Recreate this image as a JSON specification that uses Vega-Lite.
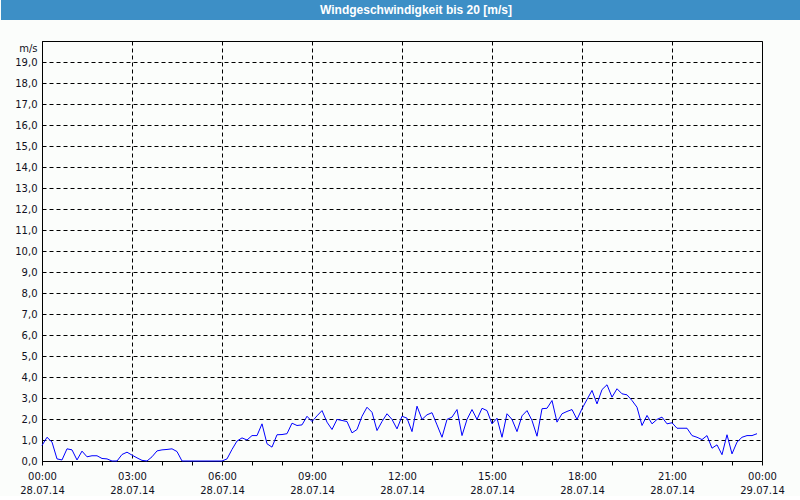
{
  "$schema": "https://vega.github.io/schema/vega-lite/v6.json",
  "background": "#fbfdfb",
  "padding": 0,
  "spacing": 20,
  "config": {"font": "DejaVu Sans"},
  "vconcat": [
    {
      "width": 759,
      "height": 20,
      "view": {"fill": null, "stroke": null},
      "data": {"values": [{"label": "Windgeschwindigkeit bis 20 [m/s]"}]},
      "encoding": {
        "x": {"field": "label", "type": "nominal", "axis": null, "scale": {"type": "band", "range": [-41, 759], "paddingInner": 0, "paddingOuter": 0}}
      },
      "layer": [
        {"mark": {"type": "rect", "color": "#3d8fc6"}},
        {
          "mark": {"type": "text", "color": "white", "font": "Liberation Sans", "fontSize": 12, "fontWeight": "bold", "dx": 15},
          "encoding": {"text": {"field": "label"}}
        }
      ]
    },
    {
      "width": 720,
      "height": 420,
      "view": {"stroke": "black", "strokeWidth": 1, "fill": null},
      "data": {"values": [
        {"t":"2014-07-28T00:00:00Z","v":0.74},{"t":"2014-07-28T00:10:00Z","v":1.13},{"t":"2014-07-28T00:20:00Z","v":0.9},{"t":"2014-07-28T00:30:00Z","v":0.1},{"t":"2014-07-28T00:40:00Z","v":0.05},{"t":"2014-07-28T00:50:00Z","v":0.58},
        {"t":"2014-07-28T01:00:00Z","v":0.53},{"t":"2014-07-28T01:10:00Z","v":0.05},{"t":"2014-07-28T01:20:00Z","v":0.47},{"t":"2014-07-28T01:30:00Z","v":0.2},{"t":"2014-07-28T01:40:00Z","v":0.25},{"t":"2014-07-28T01:50:00Z","v":0.25},
        {"t":"2014-07-28T02:00:00Z","v":0.12},{"t":"2014-07-28T02:10:00Z","v":0.1},{"t":"2014-07-28T02:20:00Z","v":0},{"t":"2014-07-28T02:30:00Z","v":0},{"t":"2014-07-28T02:40:00Z","v":0.31},{"t":"2014-07-28T02:50:00Z","v":0.42},
        {"t":"2014-07-28T03:00:00Z","v":0.28},{"t":"2014-07-28T03:10:00Z","v":0.15},{"t":"2014-07-28T03:20:00Z","v":0.03},{"t":"2014-07-28T03:30:00Z","v":0},{"t":"2014-07-28T03:40:00Z","v":0.2},{"t":"2014-07-28T03:50:00Z","v":0.48},
        {"t":"2014-07-28T04:00:00Z","v":0.53},{"t":"2014-07-28T04:10:00Z","v":0.55},{"t":"2014-07-28T04:20:00Z","v":0.58},{"t":"2014-07-28T04:30:00Z","v":0.45},{"t":"2014-07-28T04:40:00Z","v":0},{"t":"2014-07-28T04:50:00Z","v":0},
        {"t":"2014-07-28T05:00:00Z","v":0},{"t":"2014-07-28T05:10:00Z","v":0},{"t":"2014-07-28T05:20:00Z","v":0},{"t":"2014-07-28T05:30:00Z","v":0},{"t":"2014-07-28T05:40:00Z","v":0},{"t":"2014-07-28T05:50:00Z","v":0},
        {"t":"2014-07-28T06:00:00Z","v":0},{"t":"2014-07-28T06:10:00Z","v":0.1},{"t":"2014-07-28T06:20:00Z","v":0.55},{"t":"2014-07-28T06:30:00Z","v":0.95},{"t":"2014-07-28T06:40:00Z","v":1.1},{"t":"2014-07-28T06:50:00Z","v":1.0},
        {"t":"2014-07-28T07:00:00Z","v":1.21},{"t":"2014-07-28T07:10:00Z","v":1.21},{"t":"2014-07-28T07:20:00Z","v":1.77},{"t":"2014-07-28T07:30:00Z","v":0.82},{"t":"2014-07-28T07:40:00Z","v":0.66},{"t":"2014-07-28T07:50:00Z","v":1.25},
        {"t":"2014-07-28T08:00:00Z","v":1.26},{"t":"2014-07-28T08:10:00Z","v":1.3},{"t":"2014-07-28T08:20:00Z","v":1.8},{"t":"2014-07-28T08:30:00Z","v":1.69},{"t":"2014-07-28T08:40:00Z","v":1.72},{"t":"2014-07-28T08:50:00Z","v":2.13},
        {"t":"2014-07-28T09:00:00Z","v":1.88},{"t":"2014-07-28T09:10:00Z","v":2.15},{"t":"2014-07-28T09:20:00Z","v":2.4},{"t":"2014-07-28T09:30:00Z","v":1.85},{"t":"2014-07-28T09:40:00Z","v":1.5},{"t":"2014-07-28T09:50:00Z","v":1.98},
        {"t":"2014-07-28T10:00:00Z","v":1.93},{"t":"2014-07-28T10:10:00Z","v":1.88},{"t":"2014-07-28T10:20:00Z","v":1.34},{"t":"2014-07-28T10:30:00Z","v":1.5},{"t":"2014-07-28T10:40:00Z","v":2.13},{"t":"2014-07-28T10:50:00Z","v":2.56},
        {"t":"2014-07-28T11:00:00Z","v":2.32},{"t":"2014-07-28T11:10:00Z","v":1.45},{"t":"2014-07-28T11:20:00Z","v":1.88},{"t":"2014-07-28T11:30:00Z","v":2.25},{"t":"2014-07-28T11:40:00Z","v":1.98},{"t":"2014-07-28T11:50:00Z","v":1.53},
        {"t":"2014-07-28T12:00:00Z","v":2.13},{"t":"2014-07-28T12:10:00Z","v":2.04},{"t":"2014-07-28T12:20:00Z","v":1.4},{"t":"2014-07-28T12:30:00Z","v":2.61},{"t":"2014-07-28T12:40:00Z","v":1.98},{"t":"2014-07-28T12:50:00Z","v":2.2},
        {"t":"2014-07-28T13:00:00Z","v":2.3},{"t":"2014-07-28T13:10:00Z","v":1.72},{"t":"2014-07-28T13:20:00Z","v":1.13},{"t":"2014-07-28T13:30:00Z","v":1.98},{"t":"2014-07-28T13:40:00Z","v":2.09},{"t":"2014-07-28T13:50:00Z","v":2.45},
        {"t":"2014-07-28T14:00:00Z","v":1.21},{"t":"2014-07-28T14:10:00Z","v":1.98},{"t":"2014-07-28T14:20:00Z","v":2.45},{"t":"2014-07-28T14:30:00Z","v":1.98},{"t":"2014-07-28T14:40:00Z","v":2.51},{"t":"2014-07-28T14:50:00Z","v":2.4},
        {"t":"2014-07-28T15:00:00Z","v":1.77},{"t":"2014-07-28T15:10:00Z","v":2.04},{"t":"2014-07-28T15:20:00Z","v":1.13},{"t":"2014-07-28T15:30:00Z","v":2.25},{"t":"2014-07-28T15:40:00Z","v":1.98},{"t":"2014-07-28T15:50:00Z","v":1.4},
        {"t":"2014-07-28T16:00:00Z","v":2.15},{"t":"2014-07-28T16:10:00Z","v":2.4},{"t":"2014-07-28T16:20:00Z","v":1.93},{"t":"2014-07-28T16:30:00Z","v":1.18},{"t":"2014-07-28T16:40:00Z","v":2.49},{"t":"2014-07-28T16:50:00Z","v":2.51},
        {"t":"2014-07-28T17:00:00Z","v":2.88},{"t":"2014-07-28T17:10:00Z","v":1.85},{"t":"2014-07-28T17:20:00Z","v":2.25},{"t":"2014-07-28T17:30:00Z","v":2.36},{"t":"2014-07-28T17:40:00Z","v":2.45},{"t":"2014-07-28T17:50:00Z","v":1.98},
        {"t":"2014-07-28T18:00:00Z","v":2.49},{"t":"2014-07-28T18:10:00Z","v":2.93},{"t":"2014-07-28T18:20:00Z","v":3.36},{"t":"2014-07-28T18:30:00Z","v":2.72},{"t":"2014-07-28T18:40:00Z","v":3.4},{"t":"2014-07-28T18:50:00Z","v":3.63},
        {"t":"2014-07-28T19:00:00Z","v":3.04},{"t":"2014-07-28T19:10:00Z","v":3.44},{"t":"2014-07-28T19:20:00Z","v":3.2},{"t":"2014-07-28T19:30:00Z","v":3.15},{"t":"2014-07-28T19:40:00Z","v":2.88},{"t":"2014-07-28T19:50:00Z","v":2.56},
        {"t":"2014-07-28T20:00:00Z","v":1.69},{"t":"2014-07-28T20:10:00Z","v":2.17},{"t":"2014-07-28T20:20:00Z","v":1.77},{"t":"2014-07-28T20:30:00Z","v":1.98},{"t":"2014-07-28T20:40:00Z","v":2.09},{"t":"2014-07-28T20:50:00Z","v":1.77},
        {"t":"2014-07-28T21:00:00Z","v":1.82},{"t":"2014-07-28T21:10:00Z","v":1.56},{"t":"2014-07-28T21:20:00Z","v":1.56},{"t":"2014-07-28T21:30:00Z","v":1.56},{"t":"2014-07-28T21:40:00Z","v":1.21},{"t":"2014-07-28T21:50:00Z","v":1.13},
        {"t":"2014-07-28T22:00:00Z","v":1.02},{"t":"2014-07-28T22:10:00Z","v":1.21},{"t":"2014-07-28T22:20:00Z","v":0.61},{"t":"2014-07-28T22:30:00Z","v":0.77},{"t":"2014-07-28T22:40:00Z","v":0.3},{"t":"2014-07-28T22:50:00Z","v":1.25},
        {"t":"2014-07-28T23:00:00Z","v":0.34},{"t":"2014-07-28T23:10:00Z","v":0.9},{"t":"2014-07-28T23:20:00Z","v":1.13},{"t":"2014-07-28T23:30:00Z","v":1.21},{"t":"2014-07-28T23:40:00Z","v":1.21},{"t":"2014-07-28T23:50:00Z","v":1.3}
      ]},
      "mark": {"type": "line", "color": "#0000ff", "strokeWidth": 1},
      "encoding": {
        "x": {
          "field": "t",
          "type": "temporal",
          "scale": {"type": "utc", "domain": [1406505600000, 1406592000000], "nice": false},
          "axis": {
            "values": [1406505600000,1406509200000,1406512800000,1406516400000,1406520000000,1406523600000,1406527200000,1406530800000,1406534400000,1406538000000,1406541600000,1406545200000,1406548800000,1406552400000,1406556000000,1406559600000,1406563200000,1406566800000,1406570400000,1406574000000,1406577600000,1406581200000,1406584800000,1406588400000,1406592000000],
            "labelExpr": "utchours(datum.value) % 3 == 0 ? [utcFormat(datum.value, '%H:%M'), utcFormat(datum.value, '%d.%m.%y')] : ''",
            "grid": true,
            "gridColor": "black",
            "gridDash": [4, 3],
            "gridOpacity": {"condition": {"test": "utchours(datum.value) % 3 == 0", "value": 1}, "value": 0},
            "tickSize": 4,
            "tickColor": "black",
            "domainColor": "black",
            "labelFont": "DejaVu Sans",
            "labelFontSize": 10,
            "labelColor": "#111122",
            "labelPadding": 6,
            "labelLineHeight": 14,
            "labelOverlap": false,
            "labelFlush": false,
            "title": null
          }
        },
        "y": {
          "field": "v",
          "type": "quantitative",
          "scale": {"domain": [0, 20], "nice": false},
          "axis": {
            "values": [0,1,2,3,4,5,6,7,8,9,10,11,12,13,14,15,16,17,18,19],
            "labelExpr": "replace(format(datum.value, '.1f'), '.', ',')",
            "grid": true,
            "gridColor": "black",
            "gridDash": [4, 3],
            "ticks": false,
            "domainColor": "black",
            "labelFont": "DejaVu Sans",
            "labelFontSize": 10,
            "labelColor": "#111122",
            "labelPadding": 5,
            "minExtent": 41,
            "maxExtent": 41,
            "title": "m/s",
            "titleAngle": 0,
            "titleAlign": "right",
            "titleBaseline": "middle",
            "titleX": -5,
            "titleY": 7,
            "titleFont": "DejaVu Sans",
            "titleFontSize": 10,
            "titleFontWeight": "normal",
            "titleColor": "#111122"
          }
        }
      }
    }
  ]
}
